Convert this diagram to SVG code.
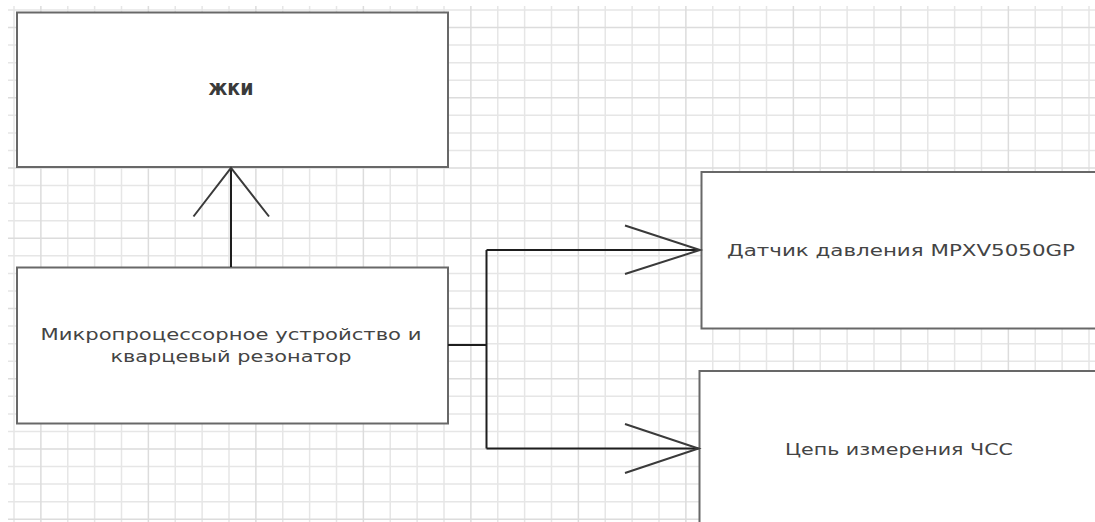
<svg xmlns="http://www.w3.org/2000/svg" width="1095" height="522" viewBox="0 0 1095 522">
<style>
.minor{stroke:#e6e6e6;stroke-width:1.5;fill:none}
.major{stroke:#dcdcdc;stroke-width:1.5;fill:none}
.box{fill:#ffffff;stroke:#686868;stroke-width:2}
.lbl{font-family:"DejaVu Sans","Noto Sans",sans-serif;font-size:15.5px;fill:#444444;text-anchor:middle}
.wire{stroke:#1e1e1e;stroke-width:2;fill:none}
.head{stroke:#3a3a3a;stroke-width:2;fill:none}
</style>
<rect width="1095" height="522" fill="#ffffff"/>
<g id="grid">
<path class="minor" d="M14 6V522M67.75 6V522M94.625 6V522M121.5 6V522M175.25 6V522M202.125 6V522M229 6V522M282.75 6V522M309.625 6V522M336.5 6V522M390.25 6V522M417.125 6V522M444 6V522M497.75 6V522M524.625 6V522M551.5 6V522M605.25 6V522M632.125 6V522M659 6V522M712.75 6V522M739.625 6V522M766.5 6V522M820.25 6V522M847.125 6V522M874 6V522M927.75 6V522M954.625 6V522M981.5 6V522M1035.25 6V522M1062.125 6V522M1089 6V522M8 10H1095M8 45.12H1095M8 62.68H1095M8 80.24H1095M8 115.36H1095M8 132.92H1095M8 150.48H1095M8 185.6H1095M8 203.16H1095M8 220.72H1095M8 255.84H1095M8 273.4H1095M8 290.96H1095M8 326.08H1095M8 343.64H1095M8 361.2H1095M8 396.32H1095M8 413.88H1095M8 431.44H1095M8 466.56H1095M8 484.12H1095M8 501.68H1095"/>
<path class="major" d="M40.875 6V522M148.375 6V522M255.875 6V522M363.375 6V522M470.875 6V522M578.375 6V522M685.875 6V522M793.375 6V522M900.875 6V522M1008.375 6V522M8 27.56H1095M8 97.8H1095M8 168.04H1095M8 238.28H1095M8 308.52H1095M8 378.76H1095M8 449H1095M8 519.24H1095"/>
</g>
<g id="node-lcd">
<rect class="box" x="17" y="12.5" width="431" height="154.5"/>
<text class="lbl" x="231" y="95" textLength="45" lengthAdjust="spacingAndGlyphs" style="font-size:22px;font-weight:bold;fill:#3a3a3a">жки</text>
</g>
<g id="node-mcu">
<rect class="box" x="17" y="267.5" width="431" height="156"/>
<text class="lbl" x="231" y="340" textLength="381" lengthAdjust="spacingAndGlyphs">Микропроцессорное устройство и</text>
<text class="lbl" x="231" y="361.5" textLength="241" lengthAdjust="spacingAndGlyphs">кварцевый резонатор</text>
</g>
<g id="node-pressure">
<rect class="box" x="701.5" y="172" width="420" height="156.5"/>
<text class="lbl" x="901" y="256" textLength="348" lengthAdjust="spacingAndGlyphs">Датчик давления MPXV5050GP</text>
</g>
<g id="node-hr">
<rect class="box" x="699.5" y="371" width="420" height="200"/>
<text class="lbl" x="899" y="454.5" textLength="228" lengthAdjust="spacingAndGlyphs">Цепь измерения ЧСС</text>
</g>
<g id="connectors">
<path class="wire" d="M231 267V168"/>
<path class="head" d="M193.5 216.5L231 168L269 216.5"/>
<path class="wire" d="M448 345H486.5M486.5 250V448.5M486.5 250H700M486.5 448.5H698.5"/>
<path class="head" d="M625 225.5L700 250L625 274"/>
<path class="head" d="M625 424L698.5 448.5L625 473"/>
</g>
</svg>
